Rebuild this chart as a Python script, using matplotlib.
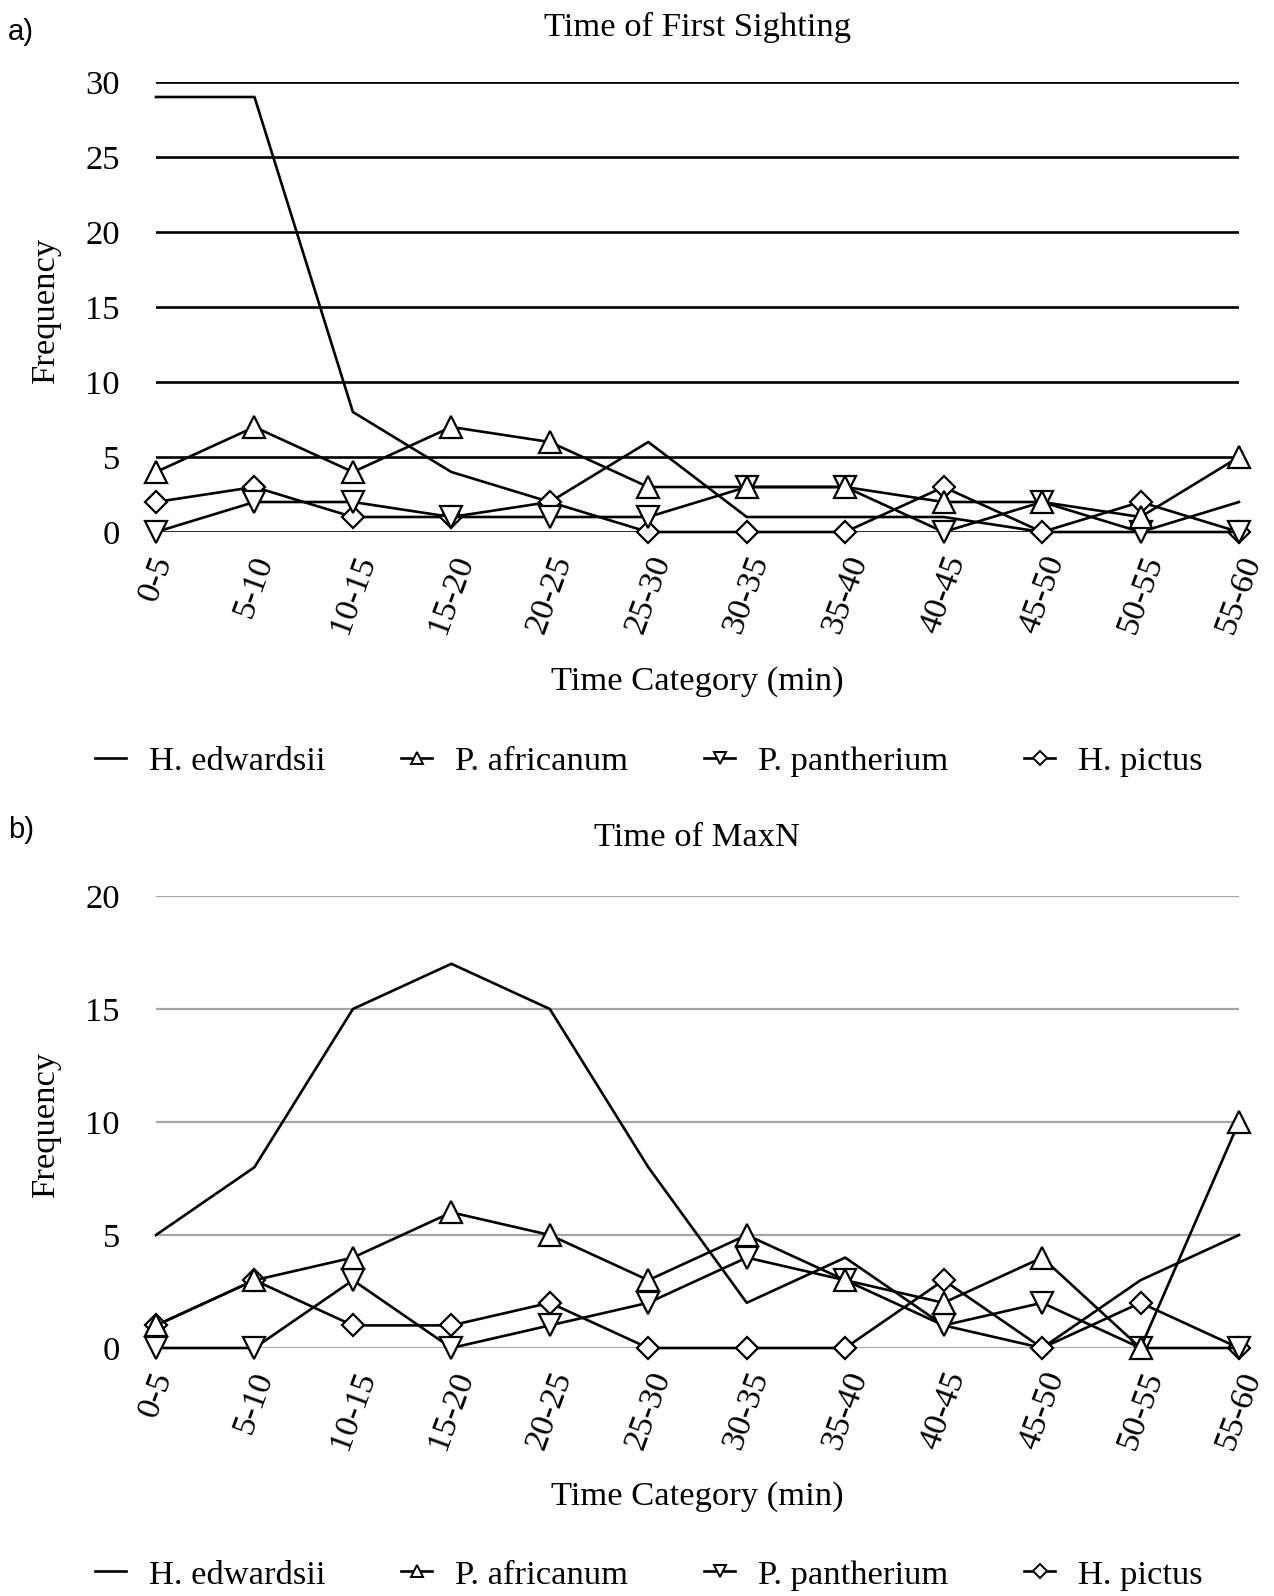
import matplotlib.pyplot as plt
from matplotlib.lines import Line2D

plt.rcParams['font.family'] = ['Liberation Serif', 'DejaVu Serif']

cats = ['0-5', '5-10', '10-15', '15-20', '20-25', '25-30',
        '30-35', '35-40', '40-45', '45-50', '50-55', '55-60']
names = ['H. edwardsii', 'P. africanum', 'P. pantherium', 'H. pictus']

# a) time of first sighting
first_edw = [29, 29, 8, 4, 2, 6, 1, 1, 1, 0, 0, 2]
first_afr = [4, 7, 4, 7, 6, 3, 3, 3, 2, 2, 1, 5]
first_pan = [0, 2, 2, 1, 1, 1, 3, 3, 0, 2, 0, 0]
first_pic = [2, 3, 1, 1, 2, 0, 0, 0, 3, 0, 2, 0]

# b) time of MaxN
maxn_edw = [5, 8, 15, 17, 15, 8, 2, 4, 1, 0, 3, 5]
maxn_afr = [1, 3, 4, 6, 5, 3, 5, 3, 2, 4, 0, 10]
maxn_pan = [0, 0, 3, 0, 1, 2, 4, 3, 1, 2, 0, 0]
maxn_pic = [1, 3, 1, 1, 2, 0, 0, 0, 3, 0, 2, 0]

W, H = 1274, 1596
fig = plt.figure(figsize=(W / 100, H / 100), dpi=100)
FS = 24.8


def panel(y0, y1, series, ymax, yticks, gridcol, gridlw):
    ax = fig.add_axes([156 / W, 1 - y0 / H, (1239 - 156) / W, (y0 - y1) / H])
    x = list(range(len(cats)))
    for t in yticks:
        ax.axhline(t, color=gridcol, lw=gridlw, zorder=0)
    edw, afr, pan, pic = series
    ax.plot(x, edw, color='k', lw=1.9, zorder=2, clip_on=False)
    ax.plot(x, pic, color='k', lw=1.9, marker='D', ms=11.5, mfc='white',
            mec='k', mew=1.6, zorder=3, clip_on=False)
    ax.plot(x, pan, color='k', lw=1.9, marker='v', ms=16, mfc='white',
            mec='k', mew=1.6, zorder=4, clip_on=False)
    ax.plot(x, afr, color='k', lw=1.9, marker='^', ms=16, mfc='white',
            mec='k', mew=1.6, zorder=5, clip_on=False)
    ax.set_xlim(0, 11)
    ax.set_ylim(0, ymax)
    ax.set_yticks(yticks)
    ax.set_yticklabels([str(t) for t in yticks], fontsize=FS)
    ax.set_xticks(x)
    ax.set_xticklabels(cats, rotation=70, ha='center', va='top', fontsize=FS)
    ax.tick_params(axis='y', length=0, pad=26)
    ax.tick_params(axis='x', length=0, pad=14)
    for s in ax.spines.values():
        s.set_visible(False)
    return ax


panel(532, 82, [first_edw, first_afr, first_pan, first_pic], 30,
      [0, 5, 10, 15, 20, 25, 30], 'black', 1.9)
panel(1348, 896, [maxn_edw, maxn_afr, maxn_pan, maxn_pic], 20,
      [0, 5, 10, 15, 20], '#a6a6a6', 1.6)

fig.text(8 / W, 1 - 32 / H, 'a)', family='Liberation Sans', fontsize=21,
         va='center', ha='left')
fig.text(8 / W, 1 - 830 / H, 'b)', family='Liberation Sans', fontsize=21,
         va='center', ha='left')

fig.text(697 / W, 1 - 27 / H, 'Time of First Sighting', fontsize=FS,
         ha='center', va='center')
fig.text(697 / W, 1 - 838 / H, 'Time of MaxN', fontsize=FS,
         ha='center', va='center')
fig.text(697 / W, 1 - 682 / H, 'Time Category (min)', fontsize=FS,
         ha='center', va='center')
fig.text(697 / W, 1 - 1497 / H, 'Time Category (min)', fontsize=FS,
         ha='center', va='center')
fig.text(46 / W, 1 - 310 / H, 'Frequency', fontsize=FS, rotation=90,
         ha='center', va='center')
fig.text(46 / W, 1 - 1124 / H, 'Frequency', fontsize=FS, rotation=90,
         ha='center', va='center')

handles = [
    Line2D([], [], color='k', lw=1.9),
    Line2D([], [], color='k', lw=1.9, marker='^', ms=9, mfc='white', mec='k', mew=1.4),
    Line2D([], [], color='k', lw=1.9, marker='v', ms=9, mfc='white', mec='k', mew=1.4),
    Line2D([], [], color='k', lw=1.9, marker='D', ms=7, mfc='white', mec='k', mew=1.4),
]
for yy in (761, 1575):
    fig.legend(handles, names, loc='center', bbox_to_anchor=(649 / W, 1 - yy / H),
               ncol=4, frameon=False, fontsize=FS, handlelength=0.9,
               handletextpad=0.67, columnspacing=2.2)

fig.savefig('out.png', dpi=100)
